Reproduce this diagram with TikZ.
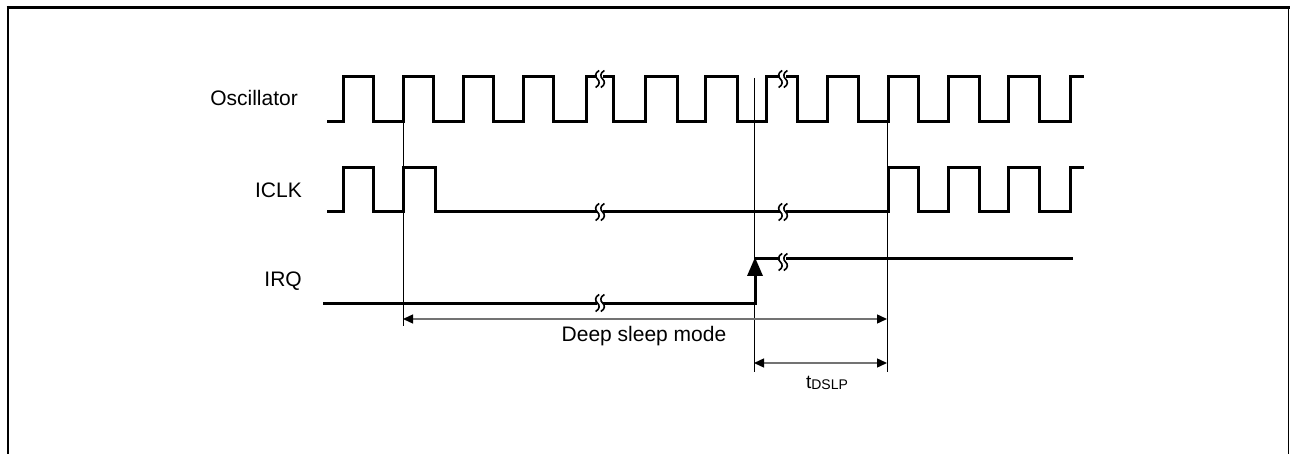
\documentclass[tikz,border=0pt]{standalone}
\usepackage{fontspec}
\setmainfont{Liberation Sans}
\usetikzlibrary{arrows.meta}
\tikzset{
  wave/.style={line width=3pt, line join=miter, line cap=butt},
  guide/.style={line width=0.9pt, black},
  dim/.style={line width=1.4pt, draw=black!55, {Triangle[length=10pt,width=9pt,fill=black,color=black]}-{Triangle[length=10pt,width=9pt,fill=black,color=black]}},
  lbl/.style={font=\fontsize{21}{24}\selectfont, inner sep=0pt},
  frame/.style={line cap=butt},
  brk/.pic={
    \fill[white] (-3,-7) -- (3,-7) -- (3,7) -- (-3,7) -- cycle;
    \draw[line width=1.6pt] (-0.8,-8.5) .. controls (-5.5,-6) and (-5,-2) .. (-2.6,0) .. controls (-0.2,2) and (0.2,6) .. (-4.4,8.5);
    \draw[line width=1.6pt] (4.4,-8.5) .. controls (-0.3,-6) and (0.2,-2) .. (2.6,0) .. controls (5,2) and (5.4,6) .. (0.8,8.5);
  }
}
\begin{document}
\begin{tikzpicture}[x=1pt,y=-1pt]
\useasboundingbox (0,0) rectangle (1290,454);
% frame
\draw[frame, line width=3pt] (6.5,7.5) -- (1290,7.5);
\draw[frame, line width=2.6pt] (7.8,6) -- (7.8,454);
\draw[frame, line width=1.8pt] (1288.5,7) -- (1288.5,454);

% labels
\node[lbl, anchor=east] (osc) at (298,98) {Oscillator};
\node[lbl, anchor=east] (iclk) at (302,190) {ICLK};
\node[lbl, anchor=east] (irq) at (302,281) {IRQ};

% oscillator waveform
\draw[wave] (327,122) -- (343,122) -- (343,77) -- (373,77) -- (373,122)
  -- (403,122) -- (403,77) -- (433,77) -- (433,122)
  -- (463,122) -- (463,77) -- (493,77) -- (493,122)
  -- (523,122) -- (523,77) -- (553,77) -- (553,122)
  -- (586,122) -- (586,77) -- (613,77) -- (613,122)
  -- (645,122) -- (645,77) -- (677,77) -- (677,122)
  -- (705,122) -- (705,77) -- (737,77) -- (737,122)
  -- (766,122) -- (766,77) -- (797,77) -- (797,122)
  -- (827,122) -- (827,77) -- (858,77) -- (858,122)
  -- (888,122) -- (888,77) -- (918,77) -- (918,122)
  -- (948,122) -- (948,77) -- (979,77) -- (979,122)
  -- (1008,122) -- (1008,77) -- (1039,77) -- (1039,122)
  -- (1070,122) -- (1070,77) -- (1084,77);

% ICLK waveform
\draw[wave] (327,212) -- (343,212) -- (343,168) -- (373,168) -- (373,212)
  -- (403,212) -- (403,168) -- (435,168) -- (435,212)
  -- (888,212) -- (888,168) -- (918,168) -- (918,212)
  -- (948,212) -- (948,168) -- (979,168) -- (979,212)
  -- (1008,212) -- (1008,168) -- (1039,168) -- (1039,212)
  -- (1070,212) -- (1070,168) -- (1084,168);

% IRQ waveform
\coordinate (irqrise) at (755,259);
\draw[wave] (323,303) -- (755,303) -- (755,272);
\draw[wave] (irqrise) -- (1073,259);
\fill (irqrise) ++(0,-1.5) -- (763,276) -- (747,276) -- cycle;

% break marks
\pic at (600,79) {brk};
\pic at (783,79) {brk};
\pic at (600,212) {brk};
\pic at (783,212) {brk};
\pic at (600,303) {brk};
\pic at (783,262) {brk};

% guide lines
\coordinate (g1t) at (403,122); \coordinate (g1b) at (403,326);
\coordinate (g2t) at (754,78);  \coordinate (g2b) at (754,372);
\coordinate (g3t) at (887,122); \coordinate (g3b) at (887,372);
\draw[guide] (g1t) -- (g1b);
\draw[guide] (g2t) -- (g2b);
\draw[guide] (g3t) -- (g3b);

% dimension arrows
\coordinate (d1a) at (403,319); \coordinate (d1b) at (887,319);
\coordinate (d2a) at (754,363); \coordinate (d2b) at (887,363);
\draw[dim] (d1a) -- (d1b);
\draw[dim] (d2a) -- (d2b);
\node[lbl, anchor=base] (dsm) at (644,341) {Deep sleep mode};
\node[inner sep=0pt, anchor=base] (tdslp) at (827,388) {\fontsize{19}{20}\selectfont t\raisebox{-1pt}{\fontsize{14}{15}\selectfont DSLP}};
\end{tikzpicture}
\end{document}
